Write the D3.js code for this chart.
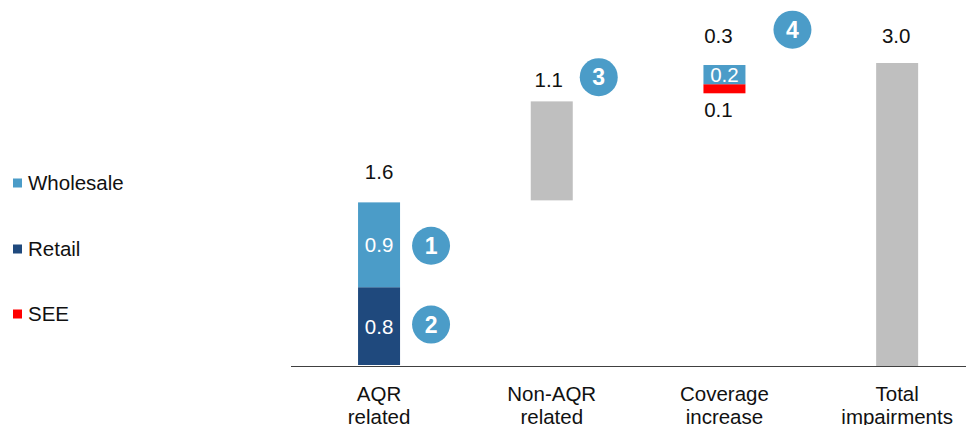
<!DOCTYPE html>
<html><head><meta charset="utf-8">
<script src="https://cdn.jsdelivr.net/npm/d3@7"></script>
<style>body{margin:0;background:#fff;}svg{display:block;font-family:"Liberation Sans",Arial,sans-serif;}</style>
</head><body><svg id="c" width="966" height="425"></svg>
<script>
const categories = ["AQR related", "Non-AQR related", "Coverage increase", "Total impairments"];
const categoryLines = [["AQR","related"],["Non-AQR","related"],["Coverage","increase"],["Total","impairments"]];
const seriesNames = ["Wholesale", "Retail", "SEE"];
const seriesColors = {"Wholesale":"#4b9cc8","Retail":"#1f497d","SEE":"#ff0000","Other":"#bfbfbf"};
// waterfall segments (bar heights)
const segCategory = ["AQR related","AQR related","Non-AQR related","Coverage increase","Coverage increase","Total impairments"];
const segSeries   = ["Retail","Wholesale","Other","SEE","Wholesale","Other"];
const segBase     = [0, 0.78, 1.64, 2.70, 2.79, 0];
const segValue    = [0.78, 0.84, 0.98, 0.09, 0.19, 3.0];
const segLabel    = ["0.8","0.9","","","0.2",""];
// labels above/below bars
const topLabels = ["1.6","1.1","0.3","3.0"];
const topLabelValue = [1.62, 2.62, 2.98, 3.0];
const seeLabel = "0.1";
// numbered badges: category, value position
const badgeNums = ["1","2","3","4"];
const badgeCat  = ["AQR related","AQR related","Non-AQR related","Coverage increase"];
const badgeVal  = [1.19, 0.41, 2.86, 3.33];

const FS = 20.5;
const svg = d3.select("#c");
const x = d3.scaleBand().domain(categories).range([292.7, 983.5]);
const y = d3.scaleLinear().domain([0, 3]).range([366, 63]);
const bw = 42;
const cx = c => x(c) + x.bandwidth()/2;

// bars
segValue.forEach((v,i)=>{
  const c = segCategory[i];
  svg.append("rect")
    .attr("x", cx(c)-bw/2).attr("width", bw)
    .attr("y", y(segBase[i]+v)).attr("height", y(segBase[i]) - y(segBase[i]+v) - (i===0?1:0))
    .attr("fill", seriesColors[segSeries[i]]);
  if (segLabel[i]) {
    svg.append("text").attr("x", cx(c)).attr("y", y(segBase[i]+v/2)).attr("dy","0.35em")
      .attr("text-anchor","middle").attr("fill","#fff").attr("font-size",FS).text(segLabel[i]);
  }
});

// axis
svg.append("line").attr("x1",291).attr("x2",966).attr("y1",366.5).attr("y2",366.5)
  .attr("stroke","#404040").attr("stroke-width",1.2);
const ax = svg.append("g");
categories.forEach((c,i)=>{
  const t = ax.append("text").attr("x", cx(c)).attr("text-anchor","middle").attr("font-size",FS).attr("fill","#111");
  categoryLines[i].forEach((l,j)=> t.append("tspan").attr("x", cx(c)).attr("y", 401 + j*23).text(l));
});

// top labels
const topOffsets = [-31, -22, -29, -27];
const topDx = [0, -3, -6, -1];
topLabels.forEach((l,i)=>{
  svg.append("text").attr("x", cx(categories[i]) + topDx[i]).attr("y", y(topLabelValue[i]) + topOffsets[i])
    .attr("dy","0.35em").attr("text-anchor","middle").attr("font-size",FS).attr("fill","#111").text(l);
});
svg.append("text").attr("x", cx("Coverage increase")-6).attr("y", y(2.70)+17).attr("dy","0.35em")
  .attr("text-anchor","middle").attr("font-size",FS).attr("fill","#111").text(seeLabel);

// badges
const badgeDx = [52, 52, 47, 68];
badgeNums.forEach((n,i)=>{
  const bx = cx(badgeCat[i]) + badgeDx[i], by = y(badgeVal[i]);
  svg.append("circle").attr("cx",bx).attr("cy",by).attr("r",19).attr("fill","#4b9cc8");
  svg.append("text").attr("x",bx).attr("y",by).attr("dy","0.36em").attr("text-anchor","middle")
    .attr("font-size",23).attr("font-weight","bold").attr("fill","#fff").text(n);
});

// legend
const legY = [183, 249, 314];
seriesNames.forEach((s,i)=>{
  svg.append("rect").attr("x",13).attr("y",legY[i]-4.5).attr("width",9).attr("height",9).attr("fill",seriesColors[s]);
  svg.append("text").attr("x",28).attr("y",legY[i]).attr("dy","0.35em").attr("font-size",FS).attr("fill","#111").text(s);
});
</script></body></html>
